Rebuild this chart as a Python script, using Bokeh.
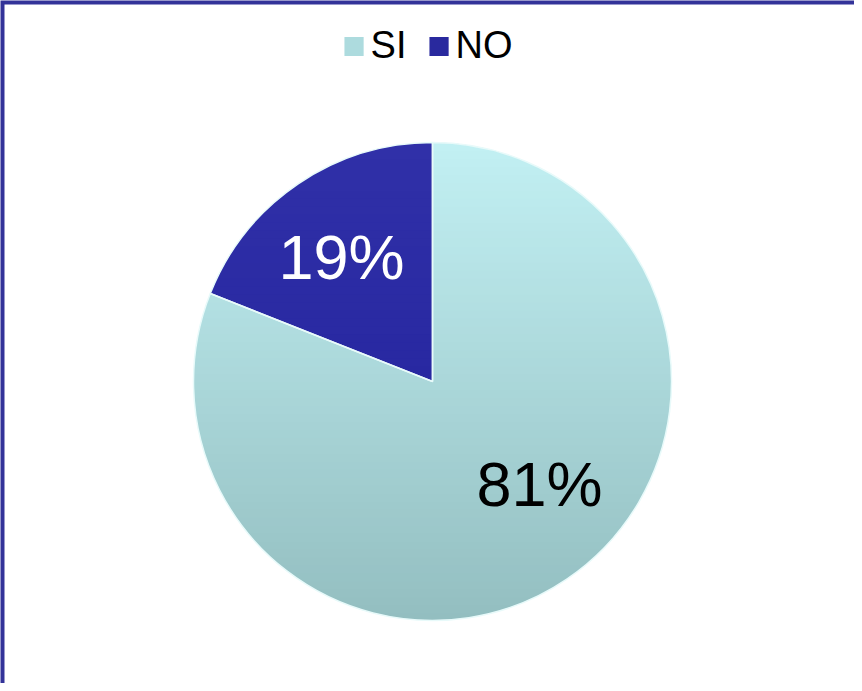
import math
import numpy as np
from bokeh.plotting import figure
from bokeh.models import ColumnDataSource, Range1d, Legend, LegendItem
from bokeh.core.properties import value
from bokeh.embed import file_html
from bokeh.resources import INLINE

# ---- data ----
categories = ["SI", "NO"]
percent = [81, 19]
labels = ["81%", "19%"]
colors = ["#ADDBDE", "#29299E"]
grad_top = ["#C2F0F3", "#3030A8"]
grad_bottom = ["#93BEC0", "#20209A"]
label_colors = ["black", "white"]

W, H = 854, 683
p = figure(width=W, height=H, output_backend="svg", toolbar_location=None,
           x_range=Range1d(0, W), y_range=Range1d(0, H),
           x_axis_location=None, y_axis_location=None,
           min_border=0, outline_line_color=None)
p.grid.visible = False
p.background_fill_color = "white"
p.border_fill_color = "white"

cx, cy, R = 432, 302, 239

# slices clockwise from 12 o'clock
total = sum(percent)
starts, ends, mids = [], [], []
acc = 0.0
for v in percent:
    a0 = math.pi / 2 - 2 * math.pi * acc / total
    acc += v
    a1 = math.pi / 2 - 2 * math.pi * acc / total
    starts.append(a1)
    ends.append(a0)
    mids.append((a0 + a1) / 2)

src = ColumnDataSource(dict(cat=categories, start=starts, end=ends, color=colors))
r = p.wedge(x=cx, y=cy, radius=R, start_angle="start", end_angle="end",
            fill_color="color", line_color=None, source=src)


# vertical gradient: clip each sector polygon into horizontal bands
def hexrgb(h):
    h = h.lstrip("#")
    return np.array([int(h[i:i + 2], 16) for i in (0, 2, 4)], dtype=float)


def clip(poly, y0, keep_above):
    out = []
    n = len(poly)
    for i in range(n):
        a, b = poly[i], poly[(i + 1) % n]
        ina = a[1] >= y0 if keep_above else a[1] <= y0
        inb = b[1] >= y0 if keep_above else b[1] <= y0
        if ina:
            out.append(a)
        if ina != inb:
            t = (y0 - a[1]) / (b[1] - a[1])
            out.append((a[0] + t * (b[0] - a[0]), y0))
    return out


NB = 60
edges = np.linspace(cy - R, cy + R, NB + 1)
bx, by, bc = [], [], []
for s, e, ct, cb in zip(starts, ends, grad_top, grad_bottom):
    ang = np.linspace(s, e, 240)
    poly = [(cx, cy)] + [(cx + (R - 0.3) * math.cos(t), cy + (R - 0.3) * math.sin(t)) for t in ang]
    c0, c1 = hexrgb(ct), hexrgb(cb)
    for k in range(NB):
        lo, hi = edges[k] - 0.6, edges[k + 1] + 0.6
        q = clip(clip(poly, lo, True), hi, False)
        if len(q) < 3:
            continue
        f = (k + 0.5) / NB  # 0 at bottom, 1 at top
        c = c1 + (c0 - c1) * f
        bx.append([pt[0] for pt in q])
        by.append([pt[1] for pt in q])
        bc.append("#%02x%02x%02x" % tuple(int(round(v)) for v in c))
p.patches(xs="xs", ys="ys", fill_color="c", line_color=None,
          source=ColumnDataSource(dict(xs=bx, ys=by, c=bc)))

# slice edges
p.wedge(x=cx, y=cy, radius=R, start_angle="start", end_angle="end",
        fill_color=None, line_color="#E8FAFA", line_width=1.5, source=src)

# labels
label_shift = [math.radians(12), math.radians(2)]
label_frac = [0.62, 0.645]
lx = [cx + R * f * math.cos(m + s) for m, s, f in zip(mids, label_shift, label_frac)]
ly = [cy + R * f * math.sin(m + s) for m, s, f in zip(mids, label_shift, label_frac)]
lsrc = ColumnDataSource(dict(x=lx, y=ly, t=labels, c=label_colors))
p.text(x="x", y="y", text="t", text_color="c", source=lsrc,
       text_font=value("Liberation Sans"), text_font_size="63px",
       text_align="center", text_baseline="middle")

# border
p.line(x=[1.5, 1.5, 3000], y=[-100, H - 1.5, H - 1.5], line_color="#333399",
       line_width=5, line_join="miter")

legend = Legend(items=[LegendItem(label=c, renderers=[r], index=i) for i, c in enumerate(categories)],
                location="top_center", orientation="horizontal",
                label_text_font="Liberation Sans", label_text_font_size="38px",
                label_text_color="black",
                glyph_width=24, glyph_height=24, spacing=20, padding=0, margin=24,
                label_standoff=5, border_line_color=None, background_fill_alpha=0)
p.add_layout(legend)

open("out.html", "w").write(file_html(p, INLINE))
